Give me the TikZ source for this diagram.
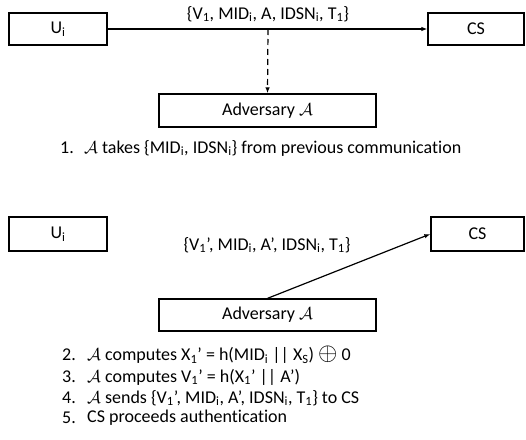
\documentclass[tikz,border=0pt]{standalone}
\usepackage{fontspec}
\setmainfont[Ligatures={NoCommon}]{Carlito}
\usetikzlibrary{arrows.meta}
\newcommand{\Adv}{$\mathcal{A}$}
\newcommand{\sbs}[1]{\textsubscript{#1}}
\begin{document}
\begin{tikzpicture}[x=1pt,y=-1pt,
  box/.style={draw, line width=1.3pt, inner sep=0pt, font=\fontsize{18}{21}\selectfont},
  txt/.style={inner sep=0pt, font=\fontsize{18}{21}\selectfont},
  conn/.style={line width=1.2pt, -{Latex[length=6pt,width=4.5pt]}}]
\useasboundingbox (0,0) rectangle (526,439);
% top scenario
\node[box, minimum width=98pt, minimum height=32pt] (u1) at (58,29) {U\sbs{i}};
\node[box, minimum width=96pt, minimum height=32pt] (cs1) at (476,29) {CS};
\node[box, minimum width=217pt, minimum height=33pt] (adv1) at (267.5,110.5) {Adversary \Adv};
\draw[conn] (u1) -- (cs1);
\coordinate (tap) at (268,29);
\draw[conn, dash pattern=on 6pt off 4pt] (tap) -- (adv1.north);
\node[txt] (m1) at (268,14) {\{V\sbs{1}, MID\sbs{i}, A, IDSN\sbs{i}, T\sbs{1}\}};
\node[txt, anchor=west] (n1) at (60,148) {1.};
\node[txt, anchor=west] (s1) at (84,148) {\Adv{} takes \{MID\sbs{i}, IDSN\sbs{i}\} from previous communication};
% bottom scenario
\node[box, minimum width=98pt, minimum height=34pt] (u2) at (58,234) {U\sbs{i}};
\node[box, minimum width=93pt, minimum height=34pt] (cs2) at (477.5,234) {CS};
\node[box, minimum width=217pt, minimum height=32pt] (adv2) at (267.5,315) {Adversary \Adv};
\draw[conn] (adv2.north) -- (cs2.west);
\node[txt] (m2) at (267,245) {\{V\sbs{1}’, MID\sbs{i}, A’, IDSN\sbs{i}, T\sbs{1}\}};
\node[txt, anchor=west] (n2) at (62,355) {2.};
\node[txt, anchor=west] (s2) at (87,355) {\Adv{} computes X\sbs{1}’ = h(MID\sbs{i} || X\sbs{S}) {\fontsize{24}{24}\selectfont$\oplus$} 0};
\node[txt, anchor=west] (n3) at (62,377) {3.};
\node[txt, anchor=west] (s3) at (87,377) {\Adv{} computes V\sbs{1}’ = h(X\sbs{1}’ || A’)};
\node[txt, anchor=west] (n4) at (62,398) {4.};
\node[txt, anchor=west] (s4) at (87,398) {\Adv{} sends \{V\sbs{1}’, MID\sbs{i}, A’, IDSN\sbs{i}, T\sbs{1}\} to CS};
\node[txt, anchor=west] (n5) at (62,418) {5.};
\node[txt, anchor=west] (s5) at (87,418) {CS proceeds authentication};
\end{tikzpicture}
\end{document}
